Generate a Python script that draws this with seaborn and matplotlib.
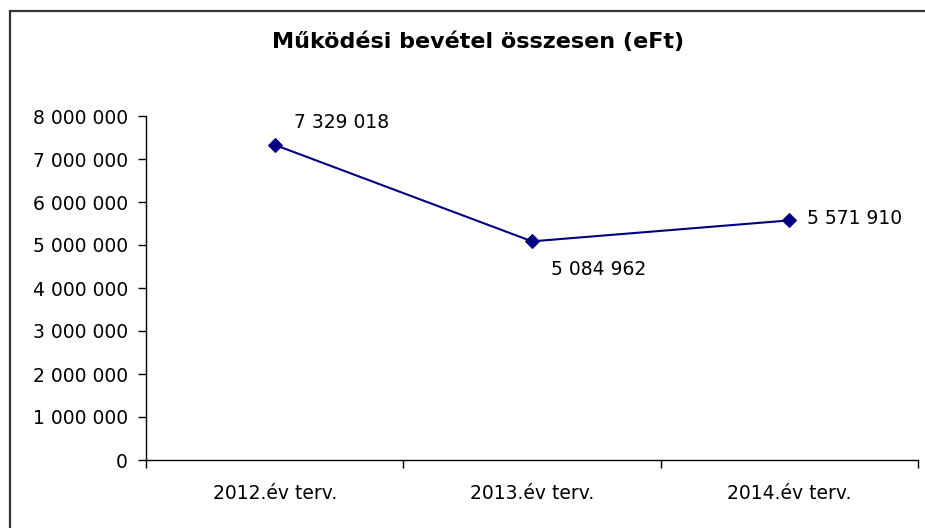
import matplotlib
matplotlib.use("Agg")
import matplotlib.pyplot as plt
import seaborn as sns
from matplotlib.ticker import FuncFormatter, FixedLocator
from matplotlib.patches import Rectangle

categories = ["2012.év terv.", "2013.év terv.", "2014.év terv."]
values = [7329018, 5084962, 5571910]
title = "Működési bevétel összesen (eFt)"

sns.set_theme(style="white")
plt.rcParams["font.family"] = ["DejaVu Sans"]
plt.rcParams["text.color"] = "black"
plt.rcParams["xtick.color"] = "black"
plt.rcParams["ytick.color"] = "black"

fig = plt.figure(figsize=(9.25, 5.28), dpi=100)
ax = fig.add_axes([146/925, 1-460/528, (918-146)/925, (460-116)/528])

sns.lineplot(x=list(range(len(categories))), y=values, ax=ax, color="#000080",
             marker="D", markersize=7.5, markeredgecolor="#000080", linewidth=1.5)

ax.set_xlim(-0.5, len(categories) - 0.5)
ax.set_ylim(0, 8000000)
ax.set_yticks(range(0, 8000001, 1000000))
ax.yaxis.set_major_formatter(FuncFormatter(lambda v, p: f"{v:,.0f}".replace(",", " ")))

ax.xaxis.set_major_locator(FixedLocator([i - 0.5 for i in range(len(categories) + 1)]))
ax.xaxis.set_major_formatter(FuncFormatter(lambda v, p: ""))
ax.xaxis.set_minor_locator(FixedLocator(list(range(len(categories)))))
ax.set_xticklabels(categories, minor=True)
ax.tick_params(axis="x", which="major", direction="out", length=6, width=1, color="black", bottom=True)
ax.tick_params(axis="x", which="minor", length=0, pad=17, labelsize=13.5, labelcolor="black")
ax.tick_params(axis="y", direction="out", length=6, width=1, color="black", left=True,
               labelsize=13.5, pad=7, labelcolor="black")

for s in ["top", "right"]:
    ax.spines[s].set_visible(False)
for s in ["left", "bottom"]:
    ax.spines[s].set_color("black")
    ax.spines[s].set_linewidth(1)
ax.set_xlabel("")
ax.set_ylabel("")

offsets = [(19, 22), (19, -28), (18, 2)]
for i, (v, off) in enumerate(zip(values, offsets)):
    ax.annotate(f"{v:,}".replace(",", " "), (i, v), xytext=(off[0] * 0.72, off[1] * 0.72),
                textcoords="offset points", ha="left", va="center", fontsize=13.5, color="black")

fig.text(478/925, 1-42/528, title, ha="center", va="center", fontsize=16, fontweight="bold",
         color="black")

fig.patches.append(Rectangle((10/925, -0.2), 1.2, 0.2 + (528-10.5)/528, transform=fig.transFigure,
                             fill=False, edgecolor="#333333", linewidth=1.6, clip_on=False))

fig.savefig("out.png", dpi=100)
